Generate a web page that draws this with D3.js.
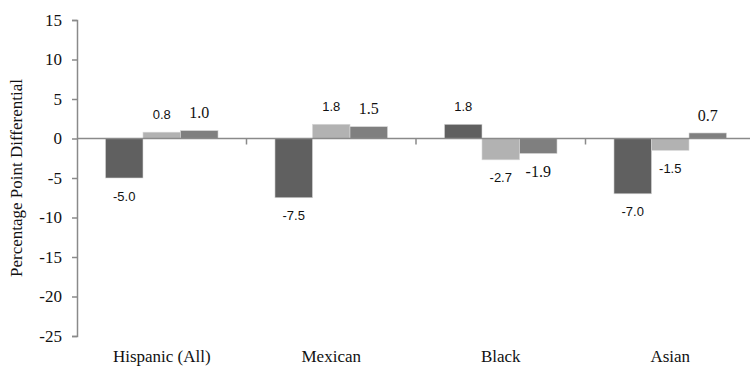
<!DOCTYPE html>
<html><head><meta charset="utf-8">
<script src="https://cdn.jsdelivr.net/npm/d3@7"></script>
<style>body{margin:0;background:#fff}svg{display:block}</style>
</head><body><svg id="c" width="750" height="368" font-family="Liberation Serif"></svg>
<script>
const categories = ["Hispanic (All)", "Mexican", "Black", "Asian"];
const series1 = [-5.0, -7.5, 1.8, -7.0];
const series2 = [0.8, 1.8, -2.7, -1.5];
const series3 = [1.0, 1.5, -1.9, 0.7];
const yTicks = [15, 10, 5, 0, -5, -10, -15, -20, -25];
const seriesColors = ["#606060", "#b2b2b2", "#7f7f7f"];
const labelFonts = ["Liberation Sans", "Liberation Sans", "Liberation Serif"];

(function () {
const svg = d3.select("#c");
const mLeft = 77, mRight = 755, mTop = 20, mBottom = 336;
const y = d3.scaleLinear().domain([-25, 15]).range([mBottom, mTop]);
const x = d3.scaleBand().domain(categories).range([mLeft, mRight]).paddingInner(0).paddingOuter(0);
const bw = x.bandwidth();
const groupW = bw * 0.664;
const xs = d3.scaleBand().domain([0, 1, 2]).range([(bw - groupW) / 2, (bw + groupW) / 2]).padding(0);
const hy = s => s.replace("\u2212", "-");

const data = [series1, series2, series3];

// y axis
const yAxis = d3.axisLeft(y).tickValues(yTicks).tickSize(5).tickPadding(10).tickFormat(d => hy(d3.format("d")(d)));
const ga = svg.append("g").attr("transform", `translate(${mLeft},0)`).call(yAxis);
ga.attr("font-family", "Liberation Serif").attr("font-size", 17);
ga.select(".domain").attr("stroke", "#8a8a8a").attr("stroke-width", 1.5);
ga.selectAll(".tick line").attr("stroke", "#8a8a8a").attr("stroke-width", 1.5);
ga.selectAll(".tick text").attr("fill", "#111").attr("font-family", "Liberation Serif");

// bars
data.forEach((vals, si) => {
  svg.append("g").selectAll("rect").data(vals).join("rect")
    .attr("x", (d, i) => x(categories[i]) + xs(si))
    .attr("width", xs.bandwidth())
    .attr("y", d => y(Math.max(0, d)))
    .attr("height", d => Math.abs(y(d) - y(0)))
    .attr("fill", seriesColors[si])
    .attr("stroke", "#d8d8d8").attr("stroke-width", 0.6);
});

// zero axis line with category ticks
svg.append("line").attr("x1", mLeft).attr("x2", mRight).attr("y1", y(0)).attr("y2", y(0))
  .attr("stroke", "#8a8a8a").attr("stroke-width", 1.5);
svg.append("g").selectAll("line").data(categories.slice(1)).join("line")
  .attr("x1", d => x(d)).attr("x2", d => x(d))
  .attr("y1", y(0)).attr("y2", y(0) + 6)
  .attr("stroke", "#8a8a8a").attr("stroke-width", 1.5);

// labels
data.forEach((vals, si) => {
  svg.append("g").selectAll("text").data(vals).join("text")
    .attr("x", (d, i) => x(categories[i]) + xs(si) + xs.bandwidth() / 2)
    .attr("y", d => d >= 0 ? y(d) - 18 : y(d) + 18)
    .attr("dy", "0.35em")
    .attr("text-anchor", "middle")
    .attr("font-family", labelFonts[si])
    .attr("font-size", si === 2 ? 16 : 13)
    .attr("fill", "#111")
    .text(d => hy(d3.format(".1f")(d)));
});

// category labels
svg.append("g").selectAll("text").data(categories).join("text")
  .attr("x", d => x(d) + bw / 2)
  .attr("y", 362)
  .attr("text-anchor", "middle")
  .attr("font-family", "Liberation Serif")
  .attr("font-size", 17).attr("fill", "#111")
  .text(d => d);

// y title
svg.append("text")
  .attr("transform", `translate(22,178) rotate(-90)`)
  .attr("text-anchor", "middle")
  .attr("font-family", "Liberation Serif")
  .attr("font-size", 17).attr("fill", "#111")
  .text("Percentage Point Differential");
})();
</script></body></html>
